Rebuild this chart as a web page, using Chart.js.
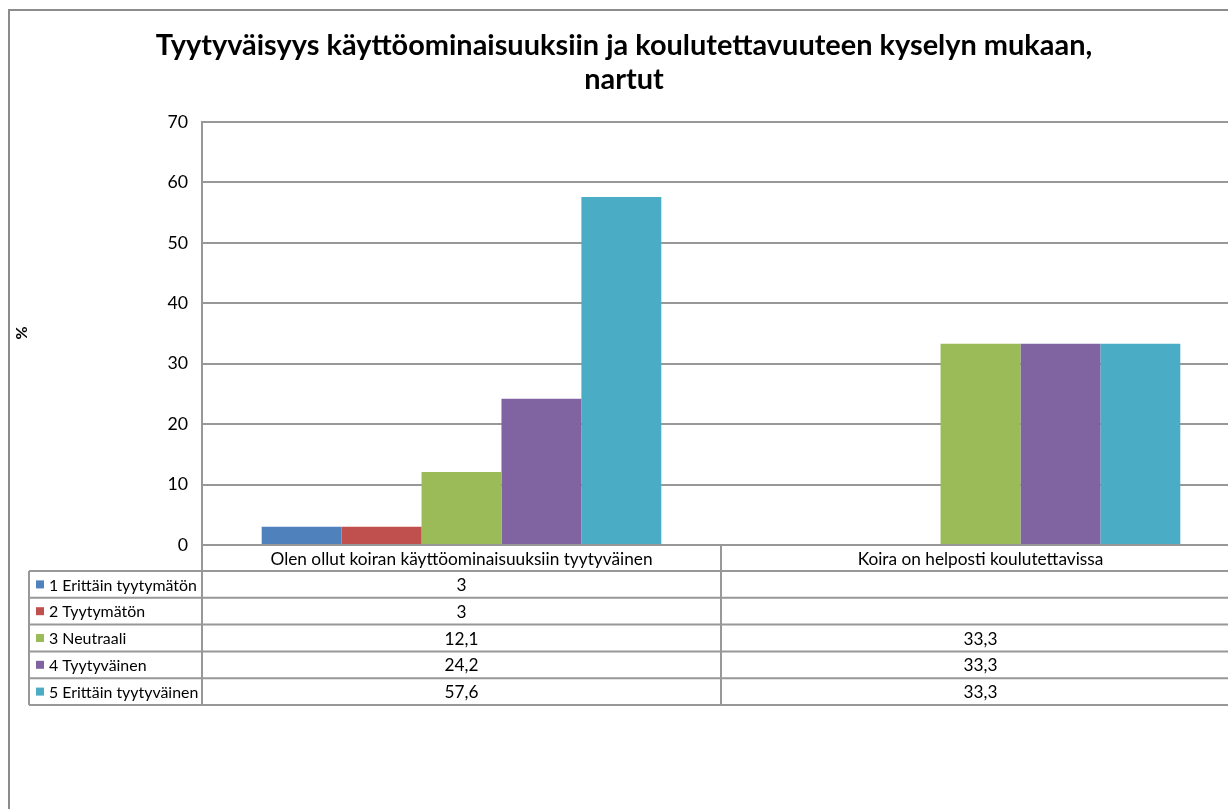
<!DOCTYPE html>
<html>
<head>
<meta charset="utf-8">
<script src="https://cdn.jsdelivr.net/npm/chart.js@4/dist/chart.umd.min.js"></script>
<style>
  html, body { margin: 0; padding: 0; background: #fff; overflow: hidden; width: 1228px; height: 809px; }
  #wrap { position: absolute; left: 0; top: 0; width: 1262px; height: 809px; }
</style>
</head>
<body>
<div id="wrap"><canvas id="c" width="1262" height="809"></canvas></div>
<script>
// ---- data ----
const titleLines = ["Tyytyväisyys käyttöominaisuuksiin ja koulutettavuuteen kyselyn mukaan,", "nartut"];
const yAxisTitle = "%";
const categories = ["Olen ollut koiran käyttöominaisuuksiin tyytyväinen", "Koira on helposti koulutettavissa"];
const seriesNames = ["1 Erittäin tyytymätön", "2 Tyytymätön", "3 Neutraali", "4 Tyytyväinen", "5 Erittäin tyytyväinen"];
const erittainTyytymaton = [3, null];
const tyytymaton = [3, null];
const neutraali = [12.1, 33.3];
const tyytyvainen = [24.2, 33.3];
const erittainTyytyvainen = [57.6, 33.3];
const seriesColors = ["#4F81BD", "#C0504D", "#9BBB59", "#8064A2", "#4BACC6"];
const yMin = 0, yMax = 70, yStep = 10;

const seriesValues = [erittainTyytymaton, tyytymaton, neutraali, tyytyvainen, erittainTyytyvainen];

const FAMILY = "Lato, 'Open Sans', sans-serif";
const lineColor = "#989898";

function fitSize(text, weight, target) {
  const cv = document.createElement('canvas').getContext('2d');
  cv.font = weight + " 100px " + FAMILY;
  return 100 * target / cv.measureText(text).width;
}
const fmt = v => (v === null || v === undefined) ? "" : String(v).replace('.', ',');

const tablePlugin = {
  id: 'excelTable',
  beforeDraw(chart) {
    const ctx = chart.ctx;
    ctx.save();
    ctx.fillStyle = '#fff';
    ctx.fillRect(0, 0, chart.width, chart.height);
    ctx.strokeStyle = '#8c8c8c';
    ctx.lineWidth = 2;
    ctx.strokeRect(9, 10, chart.width + 20, chart.height + 20);
    ctx.restore();
  },
  afterDraw(chart) {
    const ctx = chart.ctx;
    const xs = chart.scales.x, ys = chart.scales.y;
    const area = chart.chartArea;
    const titleSize = fitSize(titleLines[0], 'bold', 937);
    const tableSize = fitSize(categories[0], 'normal', 382);
    const legendSize = Math.min(tableSize, fitSize(seriesNames[0], 'normal', 148));
    ctx.save();
    // title
    ctx.fillStyle = '#000';
    ctx.textAlign = 'center';
    ctx.textBaseline = 'middle';
    ctx.font = 'bold ' + titleSize.toFixed(2) + 'px ' + FAMILY;
    ctx.fillText(titleLines[0], 624, 46);
    ctx.fillText(titleLines[1], 624, 80);
    // y title
    ctx.save();
    ctx.translate(22, 333);
    ctx.rotate(-Math.PI / 2);
    ctx.font = 'bold 16px ' + FAMILY;
    ctx.fillText(yAxisTitle, 0, 0);
    ctx.restore();

    // table geometry
    const top = ys.bottom;
    const headerH = 26;
    const rowH = 26.8;
    const legendLeft = 29;
    const bounds = [area.left];
    for (let i = 0; i < categories.length; i++) {
      const c = xs.getPixelForValue(i);
      const next = i < categories.length - 1 ? xs.getPixelForValue(i + 1) : null;
      bounds.push(next === null ? area.right : (c + next) / 2);
    }
    const bottom = top + headerH + rowH * seriesNames.length;

    ctx.strokeStyle = lineColor;
    ctx.lineWidth = 2;
    ctx.beginPath();
    ctx.moveTo(area.left, top); ctx.lineTo(area.right + 20, top);
    for (let r = 0; r <= seriesNames.length; r++) {
      const y = top + headerH + r * rowH;
      ctx.moveTo(legendLeft, y); ctx.lineTo(area.right + 20, y);
    }
    ctx.moveTo(legendLeft, top + headerH); ctx.lineTo(legendLeft, bottom);
    bounds.forEach(b => { ctx.moveTo(b, top); ctx.lineTo(b, bottom); });
    ctx.stroke();

    // header labels
    ctx.font = tableSize.toFixed(2) + 'px ' + FAMILY;
    ctx.fillStyle = '#000';
    ctx.textAlign = 'center';
    categories.forEach((cat, i) => {
      ctx.fillText(cat, xs.getPixelForValue(i), top + headerH / 2 + 1);
    });
    // rows
    seriesNames.forEach((name, r) => {
      const cy = top + headerH + r * rowH + rowH / 2 + 1;
      ctx.fillStyle = seriesColors[r];
      ctx.fillRect(36, cy - 5, 8, 8);
      ctx.fillStyle = '#000';
      ctx.textAlign = 'left';
      ctx.font = legendSize.toFixed(2) + 'px ' + FAMILY;
      ctx.fillText(name, 49, cy);
      ctx.textAlign = 'center';
      ctx.font = tableSize.toFixed(2) + 'px ' + FAMILY;
      seriesValues[r].forEach((v, i) => {
        ctx.fillText(fmt(v), xs.getPixelForValue(i), cy);
      });
    });
    ctx.restore();
  }
};

const tickSize = fitSize(categories[0], 'normal', 382) + 0.5;

new Chart(document.getElementById('c'), {
  type: 'bar',
  data: {
    labels: categories,
    datasets: seriesNames.map((name, i) => ({
      label: name,
      data: seriesValues[i],
      backgroundColor: seriesColors[i],
      borderWidth: 0,
      categoryPercentage: 0.77,
      barPercentage: 1.0
    }))
  },
  options: {
    responsive: false,
    animation: false,
    devicePixelRatio: 1,
    layout: { padding: { left: 0, top: 122, right: 22, bottom: 264 } },
    plugins: { legend: { display: false }, tooltip: { enabled: false }, title: { display: false } },
    scales: {
      x: { display: false },
      y: {
        min: yMin, max: yMax,
        ticks: { stepSize: yStep, color: '#000', padding: 14, font: { family: FAMILY, size: tickSize } },
        grid: { color: lineColor, lineWidth: 2, drawTicks: false },
        border: { display: true, color: lineColor, width: 2 },
        afterFit(scale) { scale.width = 202; }
      }
    }
  },
  plugins: [tablePlugin]
});
</script>
</body>
</html>
